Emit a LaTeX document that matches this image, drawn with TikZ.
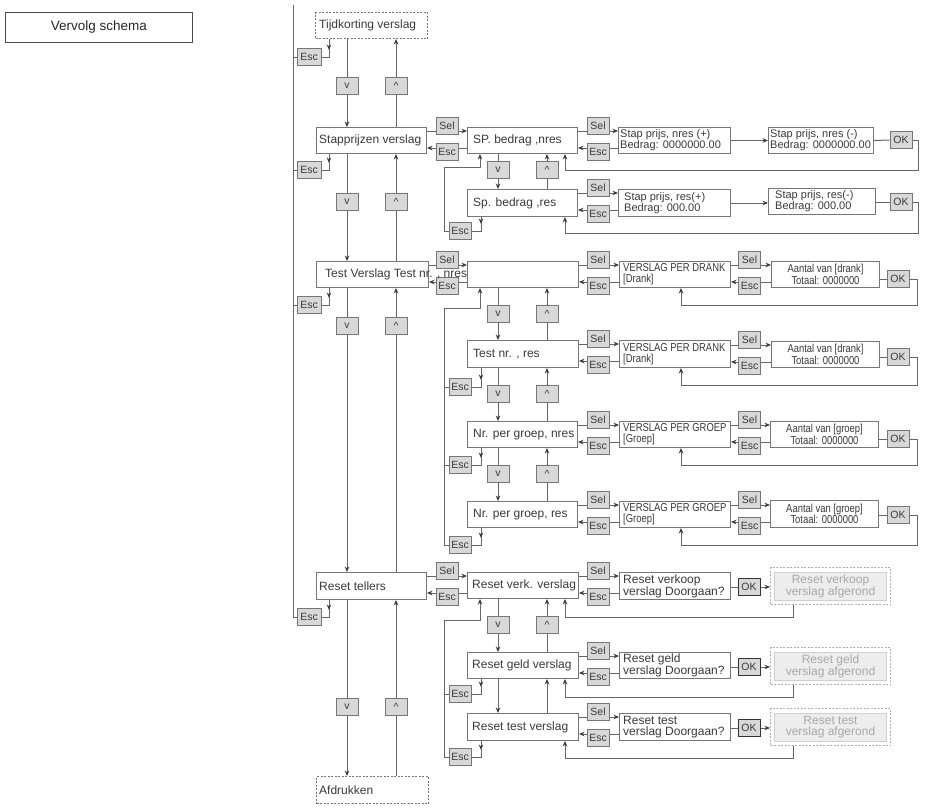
\documentclass[tikz,border=0pt]{standalone}
\usepackage{fontspec}
\setmainfont{Liberation Sans}
\newfontfamily\narrowf[FakeStretch=0.82]{Liberation Sans}
\usetikzlibrary{arrows.meta,calc}
\definecolor{lc}{HTML}{666666}
\definecolor{ac}{HTML}{3A3A3A}
\definecolor{bc}{HTML}{767676}
\definecolor{kf}{HTML}{D8D8D8}
\definecolor{tc}{HTML}{3A3A3A}
\definecolor{gt}{HTML}{A8A8A8}
\definecolor{gf}{HTML}{EDEDED}
\definecolor{gb}{HTML}{B0B0B0}
\definecolor{gl}{HTML}{CFCFCF}
\definecolor{vc}{HTML}{4A4A4A}

\newcommand\SE[5]{%
  \node[kbox] (#5s) at (#3,#4-1) {Sel};
  \node[kbox] (#5e) at (#3,#4+25) {Esc};
  \draw[ln] (#1.east |- 0,#4+4) -- (#5s.west |- 0,#4+4);
  \draw[ln,arr] (#5s.east |- 0,#4+4) -- (#2.west |- 0,#4+4);
  \draw[ln] (#2.west |- 0,#4+21) -- (#5e.east |- 0,#4+21);
  \draw[ln,arr] (#5e.west |- 0,#4+21) -- (#1.east |- 0,#4+21);
}
\newcommand\EscDrop[3]{%
  \draw[ln,arr] (#1.south -| #3,0) -- ($(#2.east -| #3,0)+(0,-7)$);
  \draw[ln] ($(#2.east -| #3,0)+(0,-8)$) |- (#2.east);
}
\newcommand\UD[4]{%
  \draw[ln,arr] (#1.south -| #3,0) -- (#2.north -| #3,0);
  \draw[ln,arr] (#2.north -| #4,0) -- (#1.south -| #4,0);
}
\newcommand\BXT[8][]{%
  \node[bx, minimum width=#5pt, minimum height=#6pt] (#2) at (#3,#4) {};
  \node[lbl,#1] (#2t) at ([xshift=#7pt]#2.west) {#8};
}

\begin{document}
\begin{tikzpicture}[x=1pt,y=-1pt,
  ln/.style={draw=lc, line width=1pt},
  arr/.style={-{Stealth[length=5.5pt,width=4.6pt,color=ac]}},
  bx/.style={draw=bc, line width=1pt, inner sep=0pt, anchor=north west, fill=white},
  kbox/.style={draw=bc, fill=kf, line width=1pt, minimum width=22pt, minimum height=17pt, inner sep=0pt, font=\fontsize{10.5}{10.5}\selectfont, text=tc},
  lbl/.style={font=\fontsize{12}{13}\selectfont, text=tc, inner sep=0pt, anchor=west},
  tl/.style={font=\fontsize{11}{10}\selectfont, align=left},
  vl/.style={font=\narrowf\fontsize{11.5}{11}\selectfont, align=left},
  al/.style={font=\narrowf\fontsize{11.5}{10.5}\selectfont, align=center, text=tc, inner sep=0pt},
  rl/.style={font=\fontsize{12}{11}\selectfont, align=left},
  dbox/.style={dash pattern=on 2pt off 1.5pt}
]
\useasboundingbox (0,0) rectangle (926,809);

% title box
\node[draw=vc, line width=0.9pt, minimum width=187pt, minimum height=30pt, anchor=north west, inner sep=0pt, font=\fontsize{13.5}{14}\selectfont, text=black!85] (vs) at (5,12) {Vervolg schema};

% ---------- main column ----------
\node[bx, dbox, minimum width=112pt, minimum height=26pt] (tijd) at (315,12) {};
\node[lbl] (tijdt) at ([xshift=4pt]tijd.west) {Tijdkorting verslag};
\BXT{stap}{316}{127}{110}{26}{3}{Stapprijzen verslag}
\node[bx, minimum width=112pt, minimum height=26pt] (test) at (316,261) {};
\BXT{reset}{316}{572}{110}{27}{3}{Reset tellers}
\node[bx, dbox, minimum width=112pt, minimum height=27pt] (afdr) at (316,776) {};
\node[lbl] (afdrt) at ([xshift=3pt]afdr.west) {Afdrukken};

% main Esc column
\node[kbox, minimum width=24pt] (mE1) at (309,57) {Esc};
\node[kbox, minimum width=24pt] (mE2) at (309,170) {Esc};
\node[kbox, minimum width=24pt] (mE3) at (309,305) {Esc};
\node[kbox, minimum width=24pt] (mE4) at (309,617) {Esc};
\coordinate (ltop) at (293,5);
\draw[ln] (ltop) |- (mE4.west);
\foreach \nn in {mE1,mE2,mE3} \draw[ln] (\nn.west) -- ++(-4,0);
\EscDrop{tijd}{mE1}{329}
\EscDrop{stap}{mE2}{329}
\EscDrop{test}{mE3}{329}
\EscDrop{reset}{mE4}{329}

\UD{tijd}{stap}{347}{396}
\UD{stap}{test}{347}{396}
\UD{test}{reset}{347}{396}
\UD{reset}{afdr}{347}{396}
\foreach \yy [count=\i] in {86,202,326,707} {
  \node[kbox] (mv\i) at (347,\yy) {v};
  \node[kbox] (mu\i) at (396,\yy) {\textasciicircum};
}

% ---------- sub column ----------
\BXT{sp1}{467}{127}{110}{26}{6}{SP. bedrag ,nres}
\BXT{sp2}{467}{189}{110}{27}{6}{Sp. bedrag ,res}
\node[bx, minimum width=111pt, minimum height=26pt] (t0) at (467,261) {};
\BXT{t1}{467}{340}{111}{27}{6}{Test nr. , res}
\BXT{t2}{467}{421}{110}{26}{6}{Nr. per groep, nres}
\BXT{t3}{467}{501}{110}{26}{6}{Nr. per groep, res}
\BXT{r1}{467}{572}{111}{26}{5}{Reset verk. verslag}
\BXT{r2}{467}{652}{111}{26}{5}{Reset geld verslag}
\BXT{r3}{467}{713}{111}{27}{5}{Reset test verslag}

\SE{stap}{sp1}{447}{127}{ms1}
\SE{test}{t0}{447}{261}{ms2}
\SE{reset}{r1}{447}{572}{ms3}

% sub Esc boxes
\node[kbox] (sE1) at (460,231) {Esc};
\node[kbox] (sE2) at (460,387) {Esc};
\node[kbox] (sE3) at (460,465) {Esc};
\node[kbox] (sE4) at (460,545) {Esc};
\node[kbox] (sE5) at (460,694) {Esc};
\node[kbox] (sE6) at (460,757) {Esc};
\EscDrop{sp2}{sE1}{481}
\EscDrop{t1}{sE2}{481}
\EscDrop{t2}{sE3}{481}
\EscDrop{t3}{sE4}{481}
\EscDrop{r2}{sE5}{481}
\EscDrop{r3}{sE6}{481}
\draw[ln,arr] (sE1.west) -- ++(-4,0) |- (480,167) -- (sp1.south -| 480,0);
\draw[ln,arr] (sE4.west) -- ++(-4,0) |- (480,308) -- (t0.south -| 480,0);
\draw[ln,arr] (sE6.west) -- ++(-4,0) |- (480,620) -- (r1.south -| 480,0);
\foreach \nn in {sE2,sE3,sE5} \draw[ln] (\nn.west) -- ++(-4,0);

\UD{sp1}{sp2}{498}{547}
\UD{t0}{t1}{498}{547}
\UD{t1}{t2}{498}{547}
\UD{t2}{t3}{498}{547}
\UD{r1}{r2}{498}{547}
\UD{r2}{r3}{498}{547}
\foreach \yy [count=\i] in {170,314,394,474,625} {
  \node[kbox] (sv\i) at (498,\yy) {v};
  \node[kbox] (su\i) at (547,\yy) {\textasciicircum};
}

% ---------- Stapprijzen detail ----------
\BXT[tl]{s1p}{618}{127}{112}{26}{2}{Stap prijs, nres (+)\\Bedrag: 0000000.00}
\BXT[tl]{s1m}{768}{127}{105}{26}{2}{Stap prijs, nres (-)\\Bedrag: 0000000.00}
\node[kbox] (ok1) at (901,140) {OK};
\draw[ln,arr] (s1p.east) -- (s1m.west);
\draw[ln] (s1m.east) -- (ok1.west);
\draw[ln,arr] (ok1.east) -| (918,170) -| (sp1.south -| 565,0);

\BXT[tl]{s2p}{618}{189}{112}{27}{6}{Stap prijs, res(+)\\Bedrag: 000.00}
\BXT[tl]{s2m}{768}{188}{107}{26}{7}{Stap prijs, res(-)\\Bedrag: 000.00}
\node[kbox] (ok2) at (901,202) {OK};
\draw[ln,arr] (s2p.east) -- (s2m.west |- s2p.east);
\draw[ln] (s2m.east |- ok2.west) -- (ok2.west);
\draw[ln,arr] (ok2.east) -| (918,233) -| (sp2.south -| 565,0);

\SE{sp1}{s1p}{598}{127}{ss1}
\SE{sp2}{s2p}{598}{189}{ss2}

% ---------- Test detail ----------
\BXT[vl]{v1}{619}{261}{111}{26}{4}{VERSLAG PER DRANK\\{[Drank]}}
\BXT[vl]{v2}{619}{340}{111}{27}{4}{VERSLAG PER DRANK\\{[Drank]}}
\BXT[vl]{v3}{619}{421}{111}{26}{4}{VERSLAG PER GROEP\\{[Groep]}}
\BXT[vl]{v4}{619}{501}{111}{26}{4}{VERSLAG PER GROEP\\{[Groep]}}

\node[bx, minimum width=108pt, minimum height=26pt] (a1) at (771,261) {};
\node[al] (a1t) at (a1.center) {Aantal van [drank]\\Totaal: 0000000};
\node[bx, minimum width=108pt, minimum height=26pt] (a2) at (771,341) {};
\node[al] (a2t) at (a2.center) {Aantal van [drank]\\Totaal: 0000000};
\node[bx, minimum width=108pt, minimum height=26pt] (a3) at (770,421) {};
\node[al] (a3t) at (a3.center) {Aantal van [groep]\\Totaal: 0000000};
\node[bx, minimum width=108pt, minimum height=27pt] (a4) at (770,500) {};
\node[al] (a4t) at (a4.center) {Aantal van [groep]\\Totaal: 0000000};

\SE{t0}{v1}{598}{261}{ss3}
\SE{t1}{v2}{598}{340}{ss4}
\SE{t2}{v3}{598}{421}{ss5}
\SE{t3}{v4}{598}{501}{ss6}

\SE{v1}{a1}{749.5}{261}{vs1}
\SE{v2}{a2}{749.5}{341}{vs2}
\SE{v3}{a3}{749.5}{421}{vs3}
\SE{v4}{a4}{749.5}{501}{vs4}

\node[kbox] (oa1) at (898,279) {OK};
\node[kbox] (oa2) at (898,357) {OK};
\node[kbox] (oa3) at (898,439) {OK};
\node[kbox] (oa4) at (898,515) {OK};
\draw[ln] (a1.east |- oa1.west) -- (oa1.west);
\draw[ln] (a2.east |- oa2.west) -- (oa2.west);
\draw[ln] (a3.east |- oa3.west) -- (oa3.west);
\draw[ln] (a4.east |- oa4.west) -- (oa4.west);
\draw[ln,arr] (oa1.east) -| (917,305) -| (v1.south -| 681,0);
\draw[ln,arr] (oa2.east) -| (917,385) -| (v2.south -| 681,0);
\draw[ln,arr] (oa3.east) -| (917,465) -| (v3.south -| 681,0);
\draw[ln,arr] (oa4.east) -| (917,545) -| (v4.south -| 681,0);

% ---------- Reset detail ----------
\BXT[rl]{rq1}{619}{572}{111}{27}{4}{Reset verkoop\\verslag Doorgaan?}
\BXT[rl]{rq2}{619}{652}{111}{26}{4}{Reset geld\\verslag Doorgaan?}
\BXT[rl]{rq3}{619}{713}{111}{27}{4}{Reset test\\verslag Doorgaan?}

\SE{r1}{rq1}{598}{572}{ss7}
\SE{r2}{rq2}{598}{652}{ss8}
\SE{r3}{rq3}{598}{713}{ss9}

\foreach \T/\nm/\la/\rb in {572/1/verkoop/r1, 652/2/geld/r2, 713/3/test/r3} {
  \node[kbox, draw=black!80] (okr\nm) at (749,\T+15) {OK};
  \draw[ln] (rq\nm.east |- okr\nm.west) -- (okr\nm.west);
  \node[bx, draw=gb, dbox, fill=none, minimum width=120pt, minimum height=37pt] (rd\nm) at (770,\T-5) {};
  \node[draw=gl, fill=gf, line width=0.6pt, minimum width=112pt, minimum height=28pt, inner sep=0pt, text=gt, align=center, font=\fontsize{12}{11}\selectfont] (rg\nm) at (rd\nm.center) {Reset \la\\verslag afgerond};
  \draw[ln,arr] (okr\nm.east) -- (rd\nm.west |- okr\nm.east);
  \draw[ln,arr] (rd\nm.south -| 793,0) |- (565,\T+45) -- (\rb.south -| 565,0);
}

% overflowing label of the Test row
\node[lbl] (testt) at ([xshift=9pt]test.west) {Test Verslag Test nr. , nres};

\end{tikzpicture}
\end{document}
